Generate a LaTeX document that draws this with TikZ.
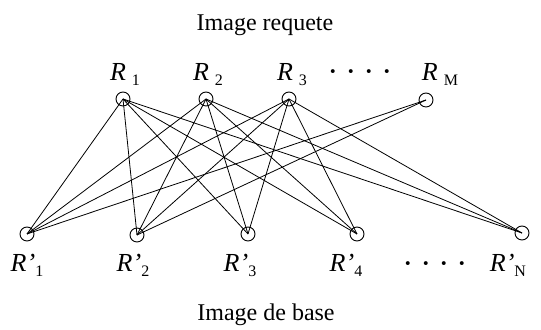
\documentclass[tikz,border=0pt]{standalone}
\usepackage{fontspec}
\setmainfont{Liberation Serif}
\usepackage{tikz}
\usetikzlibrary{positioning}
\newcommand{\subsz}{\fontsize{8}{9}\selectfont}
\newcommand{\rtop}[1]{{\fontsize{13}{15}\selectfont\textit{R}}\hspace{3pt}\raisebox{-2.5pt}{\subsz #1}}
\newcommand{\rbot}[1]{{\fontsize{13}{15}\selectfont\textit{R’}}\raisebox{-2.5pt}{\subsz #1}}
\newcommand{\fourdots}{\textbf{·\hspace{5pt}·\hspace{5pt}·\hspace{5pt}·}}
\tikzset{
  vtx/.style={draw,circle,minimum size=7pt,inner sep=0pt,line width=0.45pt},
  lbl/.style={anchor=base,inner sep=0pt,font=\fontsize{12}{14}\selectfont},
  ttl/.style={anchor=base,inner sep=0pt,font=\fontsize{12}{14}\selectfont},
  edge/.style={line width=0.4pt}}
\begin{document}
\begin{tikzpicture}[x=0.5pt,y=-0.5pt]
\useasboundingbox[fill=white] (0,0) rectangle (541,330);
\node[ttl] (req) at (265,31) {Image requete};
\node[ttl] (base) at (266,321) {Image de base};
\node[vtx] (r1) at (123,99) {};
\node[vtx] (r2) at (206,99) {};
\node[vtx] (r3) at (289,99) {};
\node[vtx] (rm) at (426,100) {};
\node[vtx] (p1) at (27,234) {};
\node[vtx] (p2) at (137,235) {};
\node[vtx] (p3) at (248,234) {};
\node[vtx] (p4) at (357,234) {};
\node[vtx] (pn) at (522,233) {};
\node[lbl] (lr1) at (125,81) {\rtop{1}};
\node[lbl] (lr2) at (208,81) {\rtop{2}};
\node[lbl] (lr3) at (292,81) {\rtop{3}};
\node[lbl] (ldt) at (360,80) {\fourdots};
\node[lbl] (lrm) at (440,81) {\rtop{M}};
\node[lbl] (lp1) at (27,272) {\rbot{1}};
\node[lbl] (lp2) at (133,272) {\rbot{2}};
\node[lbl] (lp3) at (240,272) {\rbot{3}};
\node[lbl] (lp4) at (346,272) {\rbot{4}};
\node[lbl] (lpd) at (435,272) {\fourdots};
\node[lbl] (lpn) at (508,272) {\rbot{N}};
\foreach \t in {r1,r2,r3}
  \foreach \b in {p1,p2,p3,p4,pn}
    \draw[edge] (\t.center) -- (\b.center);
\draw[edge] (rm.center) -- (p1.center);
\draw[edge] (rm.center) -- (p2.center);
\end{tikzpicture}
\end{document}
